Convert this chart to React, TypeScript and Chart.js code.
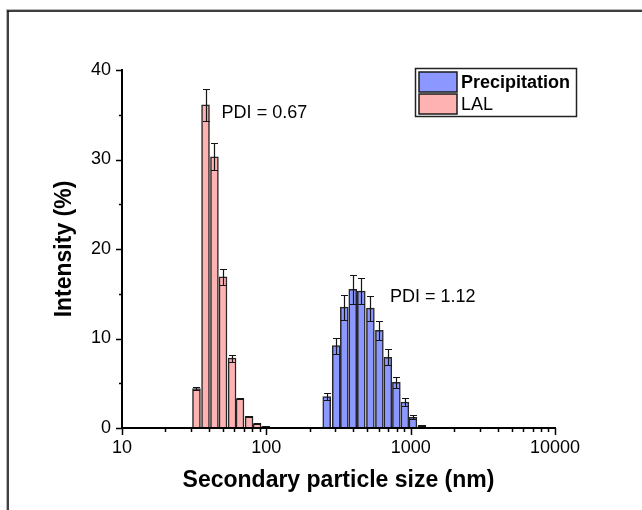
import React, { useEffect, useRef } from 'react';
import { Chart, registerables } from 'chart.js';

Chart.register(...registerables);

// ---- data ----
const lalSizes = [32.8, 37.9, 43.7, 50.1, 57.9, 65.7, 75.9, 86.3, 98.9];
const lalIntensity = [4.4, 36.1, 30.3, 16.9, 7.8, 3.3, 1.3, 0.5, 0.2];
const lalError = [0.2, 1.8, 1.5, 0.9, 0.4, 0.1, 0.05, 0.05, 0.05];

const precSizes = [262, 305, 347, 397, 455, 526, 607, 695, 796, 912, 1037, 1197];
const precIntensity = [3.5, 9.2, 13.5, 15.5, 15.3, 13.4, 10.9, 7.9, 5.1, 2.9, 1.2, 0.3];
const precError = [0.4, 0.9, 1.4, 1.6, 1.5, 1.4, 1.1, 0.9, 0.6, 0.4, 0.2, 0.05];

const seriesNames = ['Precipitation', 'LAL'];
const xTicks = [10, 100, 1000, 10000];
const yTicks = [0, 10, 20, 30, 40];
const yMinorTicks = [5, 15, 25, 35];

const pdiTexts = ['PDI = 0.67', 'PDI = 1.12'];
const pdiX = [49, 718];
const pdiY = [35.2, 14.6];

const FONT = "'Liberation Sans', Arial, Helvetica, sans-serif";
const BLUE = '#8C98FF';
const PINK = '#FFB2B2';
const EDGE = '#262626';
const INK = '#000000';

const errorsByDataset = [precError, lalError];

const customPlugin = {
  id: 'customDecor',
  beforeDraw(chart: any) {
    const { ctx, width, height } = chart;
    ctx.save();
    ctx.fillStyle = '#ffffff';
    ctx.fillRect(0, 0, width, height);
    // outer frame (top and left)
    ctx.strokeStyle = '#b8b8b8';
    ctx.lineWidth = 1;
    ctx.beginPath();
    ctx.moveTo(6, 9.5);
    ctx.lineTo(width, 9.5);
    ctx.moveTo(6.5, 9);
    ctx.lineTo(6.5, height);
    ctx.stroke();
    ctx.strokeStyle = '#000000';
    ctx.lineWidth = 1.5;
    ctx.beginPath();
    ctx.moveTo(7, 11);
    ctx.lineTo(width, 11);
    ctx.moveTo(8, 10.5);
    ctx.lineTo(8, height);
    ctx.stroke();
    ctx.restore();
  },
  afterDatasetsDraw(chart: any) {
    const { ctx } = chart;
    const yScale = chart.scales.y;
    ctx.save();
    ctx.strokeStyle = '#141414';
    ctx.lineWidth = 1.2;
    chart.data.datasets.forEach((ds: any, di: number) => {
      const meta = chart.getDatasetMeta(di);
      const errs = errorsByDataset[di];
      meta.data.forEach((bar: any, i: number) => {
        const v = ds.data[i].y;
        const e = errs[i];
        const yTop = Math.round(yScale.getPixelForValue(v + e)) + 0.5;
        const yBot = Math.round(yScale.getPixelForValue(Math.max(0, v - e))) + 0.5;
        const x = Math.round(bar.x) + 0.5;
        const hw = 3.5;
        ctx.beginPath();
        ctx.moveTo(x, yTop);
        ctx.lineTo(x, yBot);
        ctx.moveTo(x - hw, yTop);
        ctx.lineTo(x + hw, yTop);
        ctx.moveTo(x - hw, yBot);
        ctx.lineTo(x + hw, yBot);
        ctx.stroke();
      });
    });
    ctx.restore();
  },
  afterDraw(chart: any) {
    const { ctx, chartArea } = chart;
    const xs = chart.scales.x;
    const ys = chart.scales.y;
    const { left, right, top, bottom } = chartArea;
    ctx.save();
    ctx.strokeStyle = INK;
    // axes
    ctx.lineWidth = 2;
    ctx.beginPath();
    ctx.moveTo(left - 1, bottom);
    ctx.lineTo(right + 1, bottom);
    ctx.moveTo(left, top - 1);
    ctx.lineTo(left, bottom + 1);
    ctx.stroke();
    // x ticks (major + minor)
    ctx.lineWidth = 1.5;
    ctx.beginPath();
    for (let d = 10; d < 10000; d *= 10) {
      for (let k = 1; k <= 9; k++) {
        const v = d * k;
        const px = Math.round(xs.getPixelForValue(v)) + 0.5;
        const len = k === 1 ? 7 : 4;
        ctx.moveTo(px, bottom);
        ctx.lineTo(px, bottom + len);
      }
    }
    const pxEnd = Math.round(xs.getPixelForValue(10000)) + 0.5;
    ctx.moveTo(pxEnd, bottom);
    ctx.lineTo(pxEnd, bottom + 7);
    // y ticks
    yTicks.forEach((v) => {
      const py = Math.round(ys.getPixelForValue(v)) + 0.5;
      ctx.moveTo(left, py);
      ctx.lineTo(left - 6, py);
    });
    yMinorTicks.forEach((v) => {
      const py = Math.round(ys.getPixelForValue(v)) + 0.5;
      ctx.moveTo(left, py);
      ctx.lineTo(left - 3, py);
    });
    ctx.stroke();

    // PDI annotations
    ctx.fillStyle = INK;
    ctx.font = `18px ${FONT}`;
    ctx.textAlign = 'left';
    ctx.textBaseline = 'middle';
    pdiTexts.forEach((t, i) => {
      ctx.fillText(t, xs.getPixelForValue(pdiX[i]), ys.getPixelForValue(pdiY[i]));
    });

    // legend box
    const lx = 415.5, ly = 68.5, lw = 161, lh = 48;
    ctx.fillStyle = '#ffffff';
    ctx.fillRect(lx, ly, lw, lh);
    ctx.lineWidth = 1.5;
    ctx.strokeStyle = '#222';
    ctx.strokeRect(lx, ly, lw, lh);
    const colors = [BLUE, PINK];
    const weights = ['bold', 'normal'];
    seriesNames.forEach((name, i) => {
      const sy = 72 + i * 22;
      ctx.fillStyle = colors[i];
      ctx.fillRect(419, sy, 38, 20);
      ctx.lineWidth = 1.5;
      ctx.strokeStyle = '#1a1a1a';
      ctx.strokeRect(419, sy, 38, 20);
      ctx.fillStyle = INK;
      ctx.font = `${weights[i]} 18px ${FONT}`;
      ctx.textBaseline = 'middle';
      ctx.fillText(name, 461, sy + 11);
    });
    ctx.restore();
  },
};

export default function App() {
  const canvasRef = useRef<HTMLCanvasElement | null>(null);

  useEffect(() => {
    if (!canvasRef.current) return;
    const chart = new Chart(canvasRef.current, {
      type: 'bar',
      data: {
        datasets: [
          {
            label: seriesNames[0],
            data: precSizes.map((x, i) => ({ x, y: precIntensity[i] })),
            backgroundColor: BLUE,
            borderColor: EDGE,
            borderWidth: 1.5,
            grouped: false,
            barPercentage: 1,
            categoryPercentage: 1,
            maxBarThickness: 8,
          } as any,
          {
            label: seriesNames[1],
            data: lalSizes.map((x, i) => ({ x, y: lalIntensity[i] })),
            backgroundColor: PINK,
            borderColor: EDGE,
            borderWidth: 1.5,
            grouped: false,
            barPercentage: 1,
            categoryPercentage: 1,
            maxBarThickness: 8,
          } as any,
        ],
      },
      options: {
        animation: false,
        responsive: false,
        maintainAspectRatio: false,
        layout: { padding: { left: 0, right: 87, top: 70, bottom: 0 } },
        plugins: {
          legend: { display: false },
          tooltip: { enabled: false },
        },
        scales: {
          x: {
            type: 'logarithmic',
            min: 10,
            max: 10000,
            afterBuildTicks: (s: any) => {
              s.ticks = xTicks.map((v) => ({ value: v }));
            },
            afterFit: (s: any) => {
              s.height = 82;
            },
            ticks: {
              callback: (v: any) => String(v),
              font: { family: FONT, size: 18 },
              color: INK,
              padding: 9,
              maxRotation: 0,
              autoSkip: false,
            },
            grid: { display: false, drawTicks: false },
            border: { display: false },
            title: {
              display: true,
              text: 'Secondary particle size (nm)',
              font: { family: FONT, size: 23, weight: 'bold' },
              color: INK,
              padding: { top: 0, bottom: 16 },
            },
          },
          y: {
            type: 'linear',
            min: 0,
            max: 40,
            afterBuildTicks: (s: any) => {
              s.ticks = yTicks.map((v) => ({ value: v }));
            },
            afterFit: (s: any) => {
              s.width = 122;
            },
            ticks: {
              font: { family: FONT, size: 18 },
              color: INK,
              padding: 11,
            },
            grid: { display: false, drawTicks: false },
            border: { display: false },
            title: {
              display: true,
              text: 'Intensity (%)',
              font: { family: FONT, size: 23, weight: 'bold' },
              color: INK,
              padding: { top: 51, bottom: 0 },
            },
          },
        },
      } as any,
      plugins: [customPlugin],
    });
    return () => chart.destroy();
  }, []);

  return (
    <div style={{ position: 'absolute', left: 0, top: 0, width: 642, height: 510 }}>
      <canvas ref={canvasRef} width={642} height={510} style={{ display: 'block', width: 642, height: 510 }} />
    </div>
  );
}
